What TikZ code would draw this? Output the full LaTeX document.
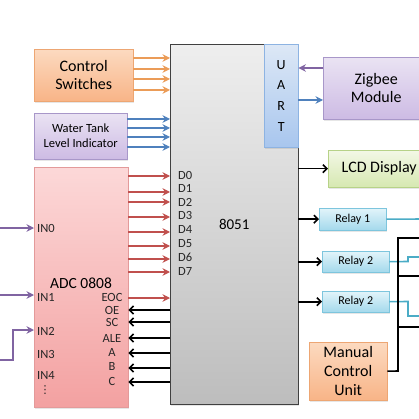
\documentclass[tikz,border=0pt]{standalone}
\usepackage{fontspec}
\setmainfont{Carlito}
\newfontfamily\dotsfont{DejaVu Sans}
\usetikzlibrary{arrows.meta,shadows}

\definecolor{orangetop}{HTML}{FCDAC0}
\definecolor{orangebot}{HTML}{F8B487}
\definecolor{orangeline}{HTML}{EDA673}
\definecolor{purpletop}{HTML}{EAE3F3}
\definecolor{purplebot}{HTML}{CDBBE4}
\definecolor{purpleline}{HTML}{A897C9}
\definecolor{pinktop}{HTML}{FCD8D8}
\definecolor{pinkbot}{HTML}{F3A1A1}
\definecolor{pinkline}{HTML}{E39A9A}
\definecolor{graytop}{HTML}{EEEEEE}
\definecolor{graybot}{HTML}{BDBDBD}
\definecolor{grayline}{HTML}{404040}
\definecolor{bluetop}{HTML}{DDE8F6}
\definecolor{bluebot}{HTML}{A8C6EE}
\definecolor{blueline}{HTML}{8DB3E2}
\definecolor{greentop}{HTML}{F3F8E6}
\definecolor{greenbot}{HTML}{D6E8B1}
\definecolor{greenline}{HTML}{B7D288}
\definecolor{cyantop}{HTML}{E2F4FA}
\definecolor{cyanbot}{HTML}{A4D9EC}
\definecolor{cyanline}{HTML}{7DC5DD}
\definecolor{arrorange}{HTML}{EB9C58}
\definecolor{arrblue}{HTML}{4F81BD}
\definecolor{arrred}{HTML}{C0504D}
\definecolor{arrpurple}{HTML}{8064A2}
\definecolor{arrcyan}{HTML}{4BACC6}

\tikzset{
  blk/.style={draw, anchor=north west, inner sep=0pt, align=center,
    drop shadow={opacity=0.2, shadow xshift=1pt, shadow yshift=-1.5pt}},
  orangeblk/.style={blk, draw=orangeline, top color=orangetop, bottom color=orangebot},
  purpleblk/.style={blk, draw=purpleline, top color=purpletop, bottom color=purplebot},
  pinkblk/.style={blk, draw=pinkline, top color=pinktop, bottom color=pinkbot},
  grayblk/.style={blk, draw=grayline, top color=graytop, bottom color=graybot},
  blueblk/.style={blk, draw=blueline, top color=bluetop, bottom color=bluebot},
  greenblk/.style={blk, draw=greenline, top color=greentop, bottom color=greenbot},
  cyanblk/.style={blk, draw=cyanline, top color=cyantop, bottom color=cyanbot},
  bigtxt/.style={font=\fontsize{16}{18}\selectfont},
  pinlbl/.style={font=\fontsize{12.5}{13}\selectfont, inner sep=0pt, text=black!85},
  carr/.style={line width=2pt, -{Stealth[length=7.5pt,width=7.5pt]}},
  barr/.style={line width=1.6pt, black, -{Straight Barb[length=4pt,width=8pt]}},
  wire/.style={line width=1.6pt}
}

\begin{document}
\begin{tikzpicture}[x=1pt,y=-1pt]
  \useasboundingbox (0,0) rectangle (419,419);
  \clip (0,0) rectangle (419,419);

  \node[grayblk, minimum width=128pt, minimum height=360pt, font=\fontsize{15}{18}\selectfont] (mcu) at (170,44) {8051};
  \node[blueblk, minimum width=34pt, minimum height=103pt, font=\fontsize{14}{20.7}\selectfont] (uart) at (264,44) {U\\A\\R\\T};
  \node[orangeblk, minimum width=99pt, minimum height=52pt, bigtxt] (sw) at (34,49) {Control\\Switches};
  \node[purpleblk, minimum width=93pt, minimum height=46pt, font=\fontsize{12.5}{15}\selectfont] (tank) at (34,113) {Water Tank\\Level Indicator};
  \node[pinkblk, minimum width=94pt, minimum height=240pt] (adc) at (34,167) {};
  \node[font=\fontsize{15.5}{18}\selectfont, inner sep=0pt] (adclbl) at (81,283) {ADC 0808};

  \node[purpleblk, minimum width=106pt, minimum height=62pt, bigtxt] (zig) at (323,57) {Zigbee\\Module};
  \node[greenblk, minimum width=102pt, minimum height=37pt, bigtxt] (lcd) at (328,150) {LCD Display};
  \node[cyanblk, minimum width=67pt, minimum height=22pt, font=\fontsize{12}{14}\selectfont] (ry1) at (319,208) {Relay 1};
  \node[cyanblk, minimum width=67pt, minimum height=21pt, font=\fontsize{12}{14}\selectfont] (ry2) at (322,251) {Relay 2};
  \node[cyanblk, minimum width=67pt, minimum height=21pt, font=\fontsize{12}{14}\selectfont] (ry3) at (322,291) {Relay 2};
  \node[orangeblk, minimum width=78pt, minimum height=58pt, font=\fontsize{16}{19}\selectfont] (man) at (309,342) {Manual\\Control\\Unit};

  \foreach \y in {58,69,79,90}
    \draw[carr, arrorange] (sw.east |- 0,\y) -- (mcu.west |- 0,\y);
  \foreach \y in {119,128,137,147}
    \draw[carr, arrblue] (tank.east |- 0,\y) -- (mcu.west |- 0,\y);

  \foreach \y/\ly [count=\i from 0] in {176/175,192/188,202/202,217/215,232/229,246/244,259/257,272/271} {
    \draw[carr, arrred] (adc.east |- 0,\y) -- (mcu.west |- 0,\y);
    \node[pinlbl, anchor=west] (d\i) at (178,\ly) {D\i};
  }
  \draw[carr, arrred] (adc.east |- 0,298) -- (mcu.west |- 0,298);
  \foreach \y in {310,322,338,353,368,382}
    \draw[barr] (mcu.west |- 0,\y) -- (adc.east |- 0,\y);

  \foreach \t/\y/\nm in {EOC/297/eoc,OE/310/oe,SC/322/sc,ALE/338/ale,A/352/pa,B/366/pb,C/381/pc}
    \node[pinlbl] (\nm) at (112,\y) {\t};
  \foreach \t/\y [count=\i from 0] in {IN0/228,IN1/297,IN2/331,IN3/354,IN4/375}
    \node[pinlbl, anchor=west] (in\i) at (37,\y) {\t};
  \node[pinlbl, font=\dotsfont\fontsize{11}{12}\selectfont] (more) at (45,390) {⋮};

  \coordinate (src0) at (0,228);
  \coordinate (src1) at (0,295);
  \coordinate (src2) at (0,360);
  \draw[carr, arrpurple] (src0) -- (adc.west |- src0);
  \draw[carr, arrpurple] (src1) -- (adc.west |- src1);
  \draw[carr, arrpurple] (src2) -| (13,330) -- (adc.west |- 0,330);

  \draw[carr, arrpurple] (zig.west |- 0,68) -- (uart.east |- 0,68);
  \draw[carr, arrblue] (uart.east |- 0,100) -- (zig.west |- 0,100);

  \draw[barr] (mcu.east |- lcd.west) -- (lcd.west);
  \draw[barr] (mcu.east |- ry1.west) -- (ry1.west);
  \draw[barr] (mcu.east |- ry2.west) -- (ry2.west);
  \draw[barr] (mcu.east |- ry3.west) -- (ry3.west);

  \coordinate (out1) at (425,219);
  \coordinate (out2) at (425,257);
  \coordinate (out3) at (425,316);
  \draw[wire, arrcyan] (ry1.east) -- (out1);
  \draw[wire, arrcyan] (ry2.east) -- (408,261.5) -- (408,257) -- (out2);
  \draw[wire, arrcyan] (ry3.east) -- (408,301.5) -- (408,316) -- (out3);

  \coordinate (bus) at (398,238);
  \draw[wire, black] (man.east) -- (398,371) -- (bus) -- (425,238);
  \draw[wire, black] (398,276) -- (425,276);
  \draw[wire, black] (398,327) -- (425,327);
\end{tikzpicture}
\end{document}
